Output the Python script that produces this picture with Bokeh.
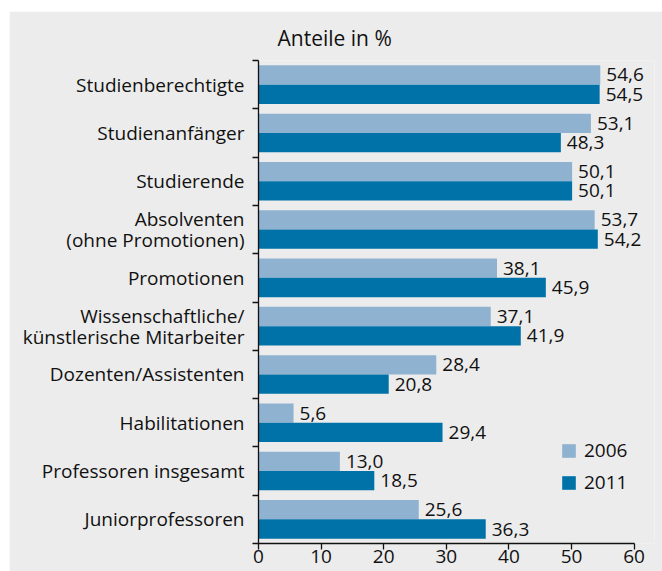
from bokeh.plotting import figure
from bokeh.models import ColumnDataSource, FixedTicker, Legend, LegendItem, Title
from bokeh.core.properties import value
from bokeh.embed import file_html
from bokeh.resources import INLINE

categories = ["Studienberechtigte", "Studienanfänger", "Studierende",
              "Absolventen\n(ohne Promotionen)", "Promotionen",
              "Wissenschaftliche/\nkünstlerische Mitarbeiter",
              "Dozenten/Assistenten", "Habilitationen",
              "Professoren insgesamt", "Juniorprofessoren"]
v2006 = [54.6, 53.1, 50.1, 53.7, 38.1, 37.1, 28.4, 5.6, 13.0, 25.6]
v2011 = [54.5, 48.3, 50.1, 54.2, 45.9, 41.9, 20.8, 29.4, 18.5, 36.3]
x_ticks = [0, 10, 20, 30, 40, 50, 60]

FONT = "Open Sans"
FS = "19px"
BG = "#ececec"
C06 = "#8fb2d1"
C11 = "#0072a7"
TXT = "#111111"

n = len(categories)
centers = [n - i - 0.5 for i in range(n)]

def fmt(v):
    return f"{v:.1f}".replace(".", ",")

src06 = ColumnDataSource(dict(y=[c + 0.2 for c in centers], v=v2006, t=[fmt(v) for v in v2006]))
src11 = ColumnDataSource(dict(y=[c - 0.2 for c in centers], v=v2011, t=[fmt(v) for v in v2011]))

p = figure(width=653, height=560, x_range=(0, 63.26), y_range=(0, n),
           output_backend="svg", toolbar_location=None,
           min_border_left=249, min_border_right=8, min_border_top=49, min_border_bottom=28)
p.margin = (11, 0, 0, 9)
p.background_fill_color = BG
p.border_fill_color = BG
p.outline_line_color = None
p.grid.visible = False

r06 = p.hbar(y="y", right="v", left=0, height=0.4, source=src06, fill_color=C06, line_color=None)
r11 = p.hbar(y="y", right="v", left=0, height=0.4, source=src11, fill_color=C11, line_color=None)

for s in (src06, src11):
    p.text(x="v", y="y", text="t", source=s, x_offset=6, text_baseline="middle",
           text_align="left", text_font=value(FONT), text_font_size=FS, text_color=TXT)

# x axis
xa = p.xaxis[0]
xa.ticker = FixedTicker(ticks=x_ticks)
xa.bounds = (0, 60)
xa.major_tick_out = 6
xa.major_tick_in = 0
xa.minor_tick_out = 0
xa.minor_tick_in = 0
xa.major_label_standoff = 0
xa.major_label_text_font = FONT
xa.major_label_text_font_size = FS
xa.major_label_text_color = TXT
xa.major_label_text_line_height = 0.8
xa.axis_line_color = TXT
xa.axis_line_width = 1.3
xa.major_tick_line_color = TXT
xa.major_tick_line_width = 1.3

# y axis
ya = p.yaxis[0]
ya.ticker = FixedTicker(ticks=centers, minor_ticks=list(range(n + 1)))
ya.major_label_overrides = {c: categories[i] for i, c in enumerate(centers)}
ya.major_tick_out = 0
ya.major_tick_in = 0
ya.minor_tick_out = 6
ya.minor_tick_in = 0
ya.major_label_standoff = 8
ya.major_label_text_font = FONT
ya.major_label_text_font_size = FS
ya.major_label_text_color = TXT
ya.major_label_text_align = "right"
ya.major_label_text_line_height = 0.81
ya.axis_line_color = TXT
ya.axis_line_width = 1.3
ya.minor_tick_line_color = TXT
ya.minor_tick_line_width = 1.3

title = Title(text="Anteile in %", align="left", offset=19, standoff=18,
              text_font=FONT, text_font_size="21px", text_font_style="normal",
              text_color=TXT, text_line_height=0.8)
p.add_layout(title, "above")

legend = Legend(items=[LegendItem(label="2006", renderers=[r06]),
                       LegendItem(label="2011", renderers=[r11])],
                location=(302, 48), orientation="vertical",
                glyph_width=17, glyph_height=17, label_height=17, spacing=6,
                padding=0, margin=0, border_line_color=None, background_fill_alpha=0,
                label_text_font=FONT, label_text_font_size=FS, label_text_color=TXT,
                label_standoff=7)
p.add_layout(legend)

open("out.html", "w").write(file_html(p, INLINE))
